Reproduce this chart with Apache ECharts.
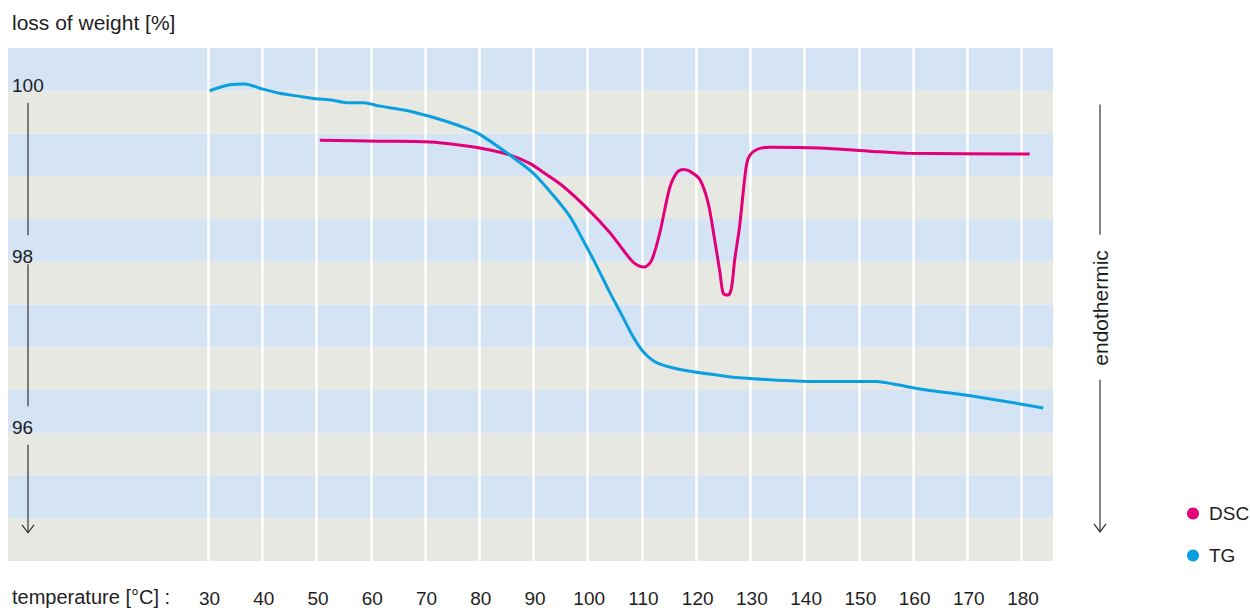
<!DOCTYPE html>
<html lang="en">
<head>
    <meta charset="UTF-8">
    <script src="https://cdn.jsdelivr.net/npm/echarts@6/dist/echarts.min.js"></script>
    <title>TG / DSC</title>
</head>
<body style="margin:0;background:#fff;">
    <div id="main" style="width:1250px;height:608px;"></div>
    <script>
        // temperature ticks and weight labels
        var tempTicks = [30, 40, 50, 60, 70, 80, 90, 100, 110, 120, 130, 140, 150, 160, 170, 180];
        var weightLabels = [96, 98, 100];

        // TG curve (loss of weight, %)
        var tgTemp = [30.3, 34.0, 36.8, 39.5, 43.2, 46.3, 49.4, 53.0, 55.5, 58.6, 61.7, 66.6, 70.3, 74.0, 77.6, 80.1,
            85.6, 89.9, 93.6, 96.7, 99.0, 101.5, 104.0, 106.5, 108.4, 110.2, 112.7, 117.0, 124.4, 128.7, 141.0,
            153.3, 156.3, 162.5, 168.6, 174.8, 184.0];
        var tgWeight = [100.0, 100.07, 100.08, 100.03, 99.97, 99.94, 99.91, 99.89, 99.86, 99.86, 99.82, 99.77, 99.71,
            99.64, 99.56, 99.49, 99.25, 99.04, 98.78, 98.53, 98.27, 97.97, 97.65, 97.35, 97.12, 96.95, 96.82,
            96.74, 96.67, 96.64, 96.60, 96.60, 96.57, 96.50, 96.45, 96.39, 96.29];

        // DSC curve (plotted on the same vertical scale)
        var dscTemp = [50.6, 61.7, 70.9, 77.0, 80.1, 85.6, 89.3, 92.4, 95.5, 99.8, 104.1, 106.5, 108.3, 109.5, 110.5,
            111.8, 113.3, 115.1, 116.4, 117.6, 118.8, 120.7, 122.2, 123.4, 124.4, 125.0, 125.9, 126.5, 127.1, 128.0,
            129.0, 129.6, 131.1, 133.6, 142.7, 152.6, 158.8, 181.5];
        var dscSignal = [99.42, 99.41, 99.40, 99.36, 99.33, 99.25, 99.15, 99.02, 98.88, 98.63, 98.34, 98.14, 98.00,
            97.95, 97.94, 98.02, 98.34, 98.86, 99.04, 99.08, 99.06, 98.96, 98.69, 98.26, 97.87, 97.63, 97.61, 97.69,
            98.02, 98.41, 99.00, 99.21, 99.31, 99.34, 99.33, 99.29, 99.27, 99.26];

        function pairs(xs, ys) {
            return xs.map(function (x, i) { return [x, ys[i]]; });
        }

        var font = 'Liberation Sans';
        var textColor = '#1e1e1e';

        var chart = echarts.init(document.getElementById('main'), null, { renderer: 'svg' });
        var option = {
            animation: false,
            title: [
                {
                    text: 'loss of weight [%]', left: 12, top: 12, padding: 0,
                    textStyle: { fontFamily: font, fontSize: 21, fontWeight: 'normal', color: textColor }
                },
                {
                    text: 'temperature [°C] :', left: 12, top: 587, padding: 0,
                    textStyle: { fontFamily: font, fontSize: 20, fontWeight: 'normal', color: textColor }
                }
            ],
            legend: {
                orient: 'vertical', left: 1182, top: 499,
                icon: 'circle', itemWidth: 12, itemHeight: 12, itemGap: 23,
                textStyle: { fontFamily: font, fontSize: 19, color: textColor, padding: [0, 0, 0, 5] },
                data: ['DSC', 'TG']
            },
            grid: { left: 8, right: 197, top: 48, bottom: 47 },
            xAxis: {
                type: 'value', min: -6.9, max: 185.8, z: 1,
                axisLine: { show: false },
                splitLine: { show: false },
                axisTick: {
                    show: true, inside: true, length: 513, customValues: tempTicks,
                    lineStyle: { color: '#fff', width: 2.5 }
                },
                axisLabel: {
                    customValues: tempTicks, margin: 28,
                    fontFamily: font, fontSize: 19, color: textColor, padding: [0, 0, 0, 3]
                }
            },
            yAxis: {
                type: 'value', min: 94.5, max: 100.5, interval: 0.5, z: 0,
                axisLine: { show: false },
                axisTick: { show: false },
                splitLine: { show: false },
                splitArea: { show: true, areaStyle: { color: ['#e8e8e3', '#d4e4f4'] } },
                axisLabel: {
                    inside: true, margin: 4, align: 'left', verticalAlign: 'bottom', lineHeight: 10,
                    fontFamily: font, fontSize: 19, color: textColor,
                    formatter: function (v) { return weightLabels.indexOf(v) >= 0 ? String(v) : ''; }
                }
            },
            series: [
                {
                    name: 'DSC', type: 'line', smooth: 0.3, symbol: 'none', z: 3,
                    color: '#e2007a', lineStyle: { width: 3 },
                    data: pairs(dscTemp, dscSignal)
                },
                {
                    name: 'TG', type: 'line', smooth: 0.3, symbol: 'none', z: 3,
                    color: '#0a9fdf', lineStyle: { width: 3 },
                    data: pairs(tgTemp, tgWeight)
                }
            ]
        };
        chart.setOption(option);

        // arrows beside the plot, placed from the vertical scale
        function py(v) { return chart.convertToPixel({ yAxisIndex: 0 }, v); }
        var lineStyle = { stroke: '#333', lineWidth: 1.2 };
        var graphics = [];
        function seg(x, v1, v2) {
            graphics.push({ type: 'line', shape: { x1: x, y1: py(v1), x2: x, y2: py(v2) }, style: lineStyle, silent: true });
        }
        function head(x, v) {
            var y = py(v);
            graphics.push({ type: 'polyline', shape: { points: [[x - 6, y - 8], [x, y], [x + 6, y - 8]] }, style: lineStyle, silent: true });
        }
        // left: weight axis
        seg(28, 99.86, 98.31);
        seg(28, 97.97, 96.31);
        seg(28, 95.86, 94.83);
        head(28, 94.83);
        // right: endothermic
        seg(1100, 99.84, 98.32);
        seg(1100, 96.62, 94.84);
        head(1100, 94.84);
        graphics.push({
            type: 'text', x: 1100, y: py(97.46), rotation: Math.PI / 2, silent: true,
            style: { text: 'endothermic', fontFamily: font, fontSize: 21, fill: textColor, align: 'center', verticalAlign: 'middle' }
        });
        chart.setOption({ graphic: graphics });
    </script>
</body>
</html>
